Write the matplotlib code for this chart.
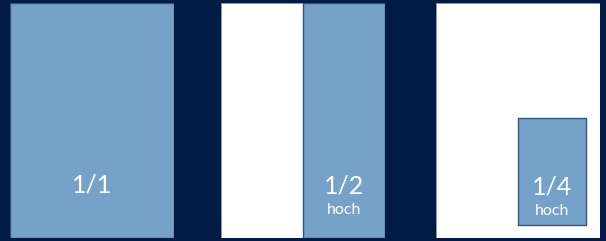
import matplotlib.pyplot as plt
from matplotlib.patches import Rectangle

# page formats: share of page width/height covered by the ad
labels = ["1/1", "1/2", "1/4"]
sublabels = ["", "hoch", "hoch"]
width_share = [1.0, 0.5, 0.415]
height_share = [1.0, 1.0, 0.455]

bg = "#021b44"
blue = "#76a1c9"
edge = "#34547e"

plt.rcParams["font.family"] = ["Lato", "DejaVu Sans"]

fig = plt.figure(figsize=(6.06, 2.41), dpi=100)
fig.patch.set_facecolor(bg)

W, H = 606, 241
lefts = [10, 221, 436]
pw, ph = 164, 235

for i in range(3):
    ax = fig.add_axes([lefts[i] / W, 3 / H, pw / W, ph / H])
    ax.set_xlim(0, 1)
    ax.set_ylim(0, 1)
    ax.axis("off")
    ax.add_patch(Rectangle((0, 0), 1, 1, facecolor="white", edgecolor="#8a9ab0", lw=0.6))

    w, h = width_share[i], height_share[i]
    if w < 1 and h < 1:
        # small ad sits in bottom right with a margin
        x0 = 1 - w - 0.085
        y0 = 0.055
    else:
        x0 = 1 - w
        y0 = 0
    ax.add_patch(Rectangle((x0, y0), w, h, facecolor=blue, edgecolor=edge, lw=1.0))

    cx = x0 + w / 2
    if i == 0:
        ax.text(cx, 0.225, labels[i], color="white", fontsize=18, ha="center", va="center")
    else:
        ty = 0.22 if i == 1 else 0.215
        ax.text(cx, ty, labels[i], color="white", fontsize=18, ha="center", va="center")
        ax.text(cx, ty - 0.1, sublabels[i], color="white", fontsize=11.5, ha="center", va="center")

fig.savefig("out.png", dpi=100, facecolor=bg)
